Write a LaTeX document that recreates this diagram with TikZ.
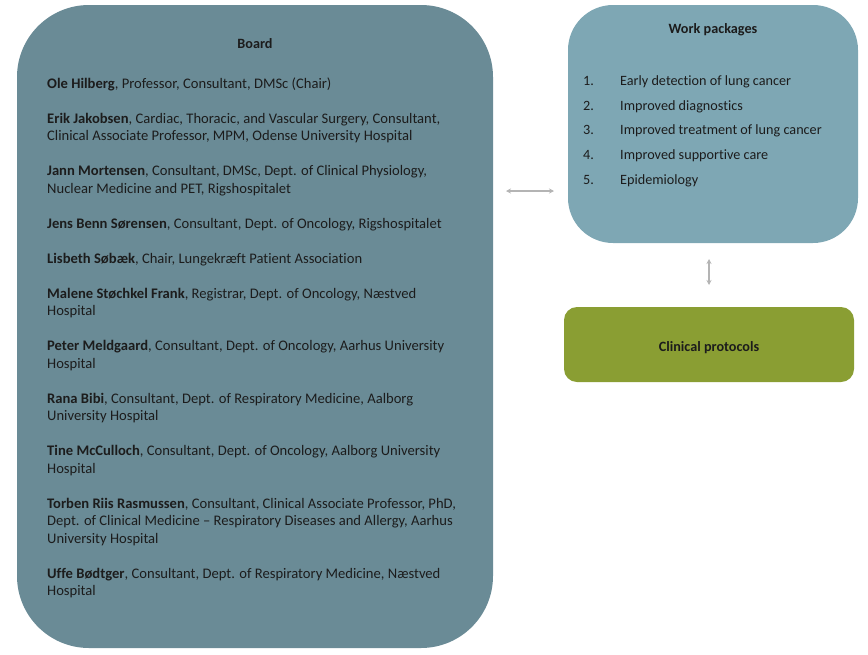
\documentclass[tikz,border=0pt]{standalone}
\usepackage{fontspec}
\setmainfont[Ligatures=NoCommon]{Carlito}
\usetikzlibrary{arrows.meta}
\definecolor{boardc}{HTML}{6A8B96}
\definecolor{wpc}{HTML}{7EA7B4}
\definecolor{clinc}{HTML}{8A9E33}
\definecolor{txt}{HTML}{1C1C1C}
\definecolor{arr}{HTML}{B4B4B4}
\tikzset{
  box/.style={rectangle, inner sep=0pt, outer sep=0pt, draw=none},
  member/.style={anchor=base west, inner sep=0pt, align=left, text=txt,
    font=\fontsize{14.6}{17.5}\selectfont},
  title/.style={anchor=base, inner sep=0pt, text=txt, font=\fontsize{14.2}{17}\selectfont\bfseries},
  wpitem/.style={anchor=base west, inner sep=0pt, text=txt, font=\fontsize{14.2}{17}\selectfont},
  conn/.style={draw=arr, line width=1.2pt, {Stealth[length=5pt,width=5pt]}-{Stealth[length=5pt,width=5pt]}}
}
\begin{document}
\begin{tikzpicture}[x=1pt,y=-1pt]
\useasboundingbox (0,0) rectangle (868,654);
\node[box, fill=boardc, rounded corners=72pt, minimum width=476pt, minimum height=643pt] (board) at (255,326.5) {};
\node[box, fill=wpc, rounded corners=45pt, minimum width=290pt, minimum height=238pt] (wp) at (713,124) {};
\node[box, fill=clinc, rounded corners=13pt, minimum width=290pt, minimum height=75pt] (clin) at (709,344.5) {};

\node[title] (boardtitle) at (255,48.5) {Board};
% base anchor of a multi-line node = baseline of its last line
\node[member] (m1) at (47,88) {\textbf{Ole Hilberg}, Professor, Consultant, DMSc (Chair)};
\node[member] (m2) at (47,140.5) {\textbf{Erik Jakobsen}, Cardiac, Thoracic, and Vascular Surgery, Consultant,\\Clinical Associate Professor, MPM, Odense University Hospital};
\node[member] (m3) at (47,193) {\textbf{Jann Mortensen}, Consultant, DMSc, Dept. of Clinical Physiology,\\Nuclear Medicine and PET, Rigshospitalet};
\node[member] (m4) at (47,228) {\textbf{Jens Benn Sørensen}, Consultant, Dept. of Oncology, Rigshospitalet};
\node[member] (m5) at (47,263) {\textbf{Lisbeth Søbæk}, Chair, Lungekræft Patient Association};
\node[member] (m6) at (47,315.5) {\textbf{Malene Støchkel Frank}, Registrar, Dept. of Oncology, Næstved\\Hospital};
\node[member] (m7) at (47,368) {\textbf{Peter Meldgaard}, Consultant, Dept. of Oncology, Aarhus University\\Hospital};
\node[member] (m8) at (47,420.5) {\textbf{Rana Bibi}, Consultant, Dept. of Respiratory Medicine, Aalborg\\University Hospital};
\node[member] (m9) at (47,473) {\textbf{Tine McCulloch}, Consultant, Dept. of Oncology, Aalborg University\\Hospital};
\node[member] (m10) at (47,543) {\textbf{Torben Riis Rasmussen}, Consultant, Clinical Associate Professor, PhD,\\Dept. of Clinical Medicine – Respiratory Diseases and Allergy, Aarhus\\University Hospital};
\node[member] (m11) at (47,595.5) {\textbf{Uffe Bødtger}, Consultant, Dept. of Respiratory Medicine, Næstved\\Hospital};

\node[title] (wptitle) at (713,33) {Work packages};
\node[wpitem] (w1) at (583,85.5) {\makebox[37pt][l]{1.}Early detection of lung cancer};
\node[wpitem] (w2) at (583,110.2) {\makebox[37pt][l]{2.}Improved diagnostics};
\node[wpitem] (w3) at (583,134.9) {\makebox[37pt][l]{3.}Improved treatment of lung cancer};
\node[wpitem] (w4) at (583,159.6) {\makebox[37pt][l]{4.}Improved supportive care};
\node[wpitem] (w5) at (583,184.3) {\makebox[37pt][l]{5.}Epidemiology};

\node[title] (clintitle) at (709,351.7) {Clinical protocols};

\draw[conn, shorten <=13pt, shorten >=14pt] ([yshift=135.5pt]board.east) -- ([yshift=-67pt]wp.west);
\draw[conn, shorten <=16pt, shorten >=22pt] ([xshift=-4pt]wp.south) -- (clin.north);
\end{tikzpicture}
\end{document}
